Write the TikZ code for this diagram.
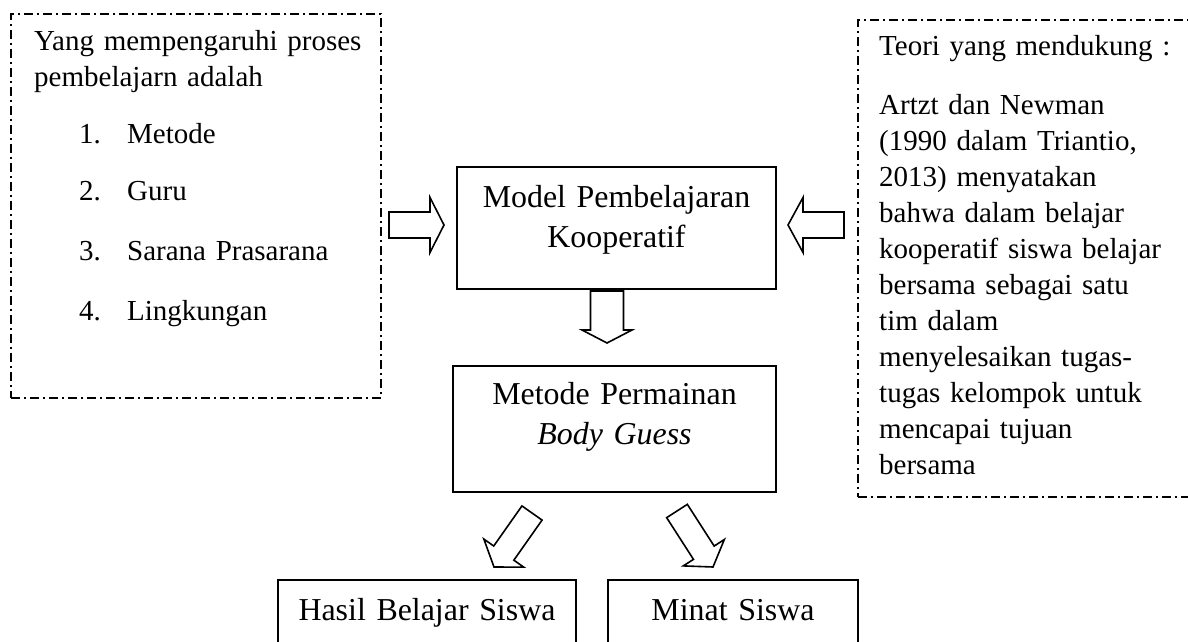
\documentclass[tikz,border=0pt]{standalone}
\usepackage{fontspec}
\setmainfont{Liberation Serif}
\usepackage{tikz}
\usetikzlibrary{calc}

% panah blok: pangkal, ujung, setengah lebar batang, setengah lebar kepala, panjang kepala
\newcommand{\panahblok}[5]{%
  \coordinate (leher) at ($(#2)!#5!(#1)$);
  \draw[panah] ($(#1)!#3!90:(#2)$) -- ($(leher)!#3!90:(#2)$) -- ($(leher)!#4!90:(#2)$) -- (#2)
    -- ($(leher)!#4!-90:(#2)$) -- ($(leher)!#3!-90:(#2)$) -- ($(#1)!#3!-90:(#2)$) -- cycle;}
\newcommand{\butir}[2]{\hspace*{45pt}\makebox[48pt][l]{#1}#2}

\tikzset{
  bingkai/.style={draw, line width=2pt, dash pattern=on 9pt off 4pt on 2pt off 4pt, inner sep=0pt},
  kotak/.style={draw, line width=2pt, align=center, inner sep=0pt, font=\fontsize{31.9}{40}\selectfont},
  isian/.style={align=left, text width=330pt, inner sep=0pt, font=\fontsize{29}{36}\selectfont},
  panah/.style={draw, line width=1.6pt, line join=miter}
}

\begin{document}
\begin{tikzpicture}[x=1pt,y=1pt]
\clip (0,0) rectangle (1188,641);
% kerangka kiri dan kanan
\node[bingkai, minimum width=370pt, minimum height=384pt] (faktor) at (196,435) {};
\node[isian, anchor=base west] (faktorisi) at ($(faktor.north west)+(24,-38)$)
  {Yang mempengaruhi proses\\ pembelajarn adalah\\[21pt]
   \butir{1.}{Metode}\\[21pt]
   \butir{2.}{Guru}\\[24pt]
   \butir{3.}{Sarana Prasarana}\\[24pt]
   \butir{4.}{Lingkungan}};
\node[bingkai, minimum width=342pt, minimum height=477pt] (teori) at (1029,382.5) {};
\node[isian, anchor=base west] (teoriisi) at ($(teori.north west)+(22,-37)$)
  {Teori yang mendukung :\\[23pt]
   Artzt dan Newman\\ (1990 dalam Triantio,\\ 2013) menyatakan\\ bahwa dalam belajar\\
   kooperatif siswa belajar\\ bersama sebagai satu\\ tim dalam\\ menyelesaikan tugas-\\
   tugas kelompok untuk\\ mencapai tujuan\\ bersama};
% kotak tengah
\node[kotak, anchor=north, text width=319pt, text height=41pt, text depth=81pt] (model) at (616.5,475)
  {Model Pembelajaran\\Kooperatif};
\node[kotak, anchor=north, text width=323pt, text height=38pt, text depth=88pt] (metode) at (614.5,276)
  {Metode Permainan\\\textit{Body Guess}};
\node[kotak, anchor=north, text width=298pt, text height=40pt, text depth=40pt] (hasil) at (427,62)
  {Hasil Belajar Siswa};
\node[kotak, anchor=north, text width=250pt, text height=40pt, text depth=40pt] (minat) at (733,62)
  {Minat Siswa};
% panah
\coordinate (pa1) at ($(faktor.east |- model.center)+(7,3)$);
\coordinate (pb1) at ($(model.west)+(-12,3)$);
\coordinate (pa2) at ($(teori.west |- model.center)+(-13,3)$);
\coordinate (pb2) at ($(model.east)+(11,3)$);
\coordinate (pa3) at ($(model.south)+(-9.5,-1)$);
\coordinate (pb3) at ($(metode.north)+(-7.5,22)$);
\coordinate (pa4) at ($(metode.south)+(-82.5,-20)$);
\coordinate (pb4) at ($(hasil.north)+(67,12)$);
\coordinate (pa5) at ($(metode.south)+(62.5,-18)$);
\coordinate (pb5) at ($(minat.north)+(-20,12)$);
\panahblok{pa1}{pb1}{13pt}{27.5pt}{14pt}
\panahblok{pa2}{pb2}{13pt}{27.5pt}{15pt}
\panahblok{pa3}{pb3}{16.5pt}{25pt}{13pt}
\panahblok{pa4}{pb4}{12.3pt}{24.4pt}{17pt}
\panahblok{pa5}{pb5}{12.3pt}{24.4pt}{17pt}
\end{tikzpicture}
\end{document}
